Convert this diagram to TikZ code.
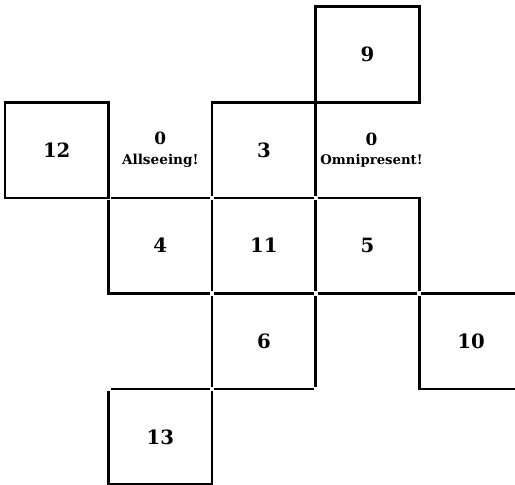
\documentclass[tikz,border=0pt]{standalone}
\usepackage{fontspec}
\setmainfont{DejaVu Serif}
\usetikzlibrary{positioning}

\begin{document}
\begin{tikzpicture}[
  x=0.025cm, y=-0.025cm,
  node distance=0pt,
  cell/.style={rectangle, minimum width=2.575cm, minimum height=2.375cm,
               inner sep=0pt, font=\bfseries\fontsize{14}{16}\selectfont},
  tag/.style={cell, align=center, font=\bfseries\fontsize{12}{13}\selectfont},
  box/.style={draw, line width=1.8pt},
  wall/.style={line width=1.8pt, shorten <=1.5pt, shorten >=1.5pt}
]
  \useasboundingbox (0,0) rectangle (515,485);

  \node[cell] (n9) at (367.5,54.5) {9};
  \node[tag, below=of n9, xshift=1mm] (omni) {0\\[1pt]{\fontsize{9.4}{11}\selectfont Omnipresent!}};
  \node[cell, below=of n9] (c31) {};
  \node[cell, left=of c31] (n3) {3};
  \node[tag, left=of n3] (seeing) {0\\[1pt]{\fontsize{9.7}{11}\selectfont Allseeing!}};
  \node[cell, left=of seeing] (n12) {12};
  \node[cell, below=of n3] (n11) {11};
  \node[cell, left=of n11] (n4) {4};
  \node[cell, right=of n11] (n5) {5};
  \node[cell, below=of n11] (n6) {6};
  \node[cell, below right=of n5] (n10) {10};
  \node[cell, below left=of n6] (n13) {13};

  % closed boxes
  \draw[box] (n9.north west) rectangle (n9.south east);
  \draw[box] (n12.north west) rectangle (n12.south east);

  % row with 3
  \draw[wall] (n3.south west) -- (n3.north west) -- (n3.north east);
  \draw[wall] (n3.north east) -- (n3.south east);
  \draw[wall] (seeing.south west) -- (seeing.south east);
  \draw[wall] (n3.south west) -- (n3.south east);

  % row with 4, 11, 5
  \draw[wall] (n4.north west) -- (n4.south west) -- (n4.south east);
  \draw[wall] (n11.north west) -- (n11.south west);
  \draw[wall] (n11.north east) -- (n11.south east);
  \draw[wall] (n11.south west) -- (n11.south east);
  \draw[wall] (n5.north west) -- (n5.north east) -- (n5.south east);
  \draw[wall] (n5.south west) -- (n5.south east);
  \draw[wall] (n10.north west) -- (n10.north east);

  % row with 6, 10
  \draw[wall] (n6.north west) -- (n6.south west);
  \draw[wall] (n6.north east) -- (n6.south east);
  \draw[wall] (n6.south west) -- (n6.south east);
  \draw[wall] (n10.north west) -- (n10.south west) -- (n10.south east);

  % 13
  \draw[wall] (n13.north west) -- (n13.north east);
  \draw[wall] (n13.north west) -- (n13.south west) -- (n13.south east) -- (n13.north east);
\end{tikzpicture}
\end{document}
